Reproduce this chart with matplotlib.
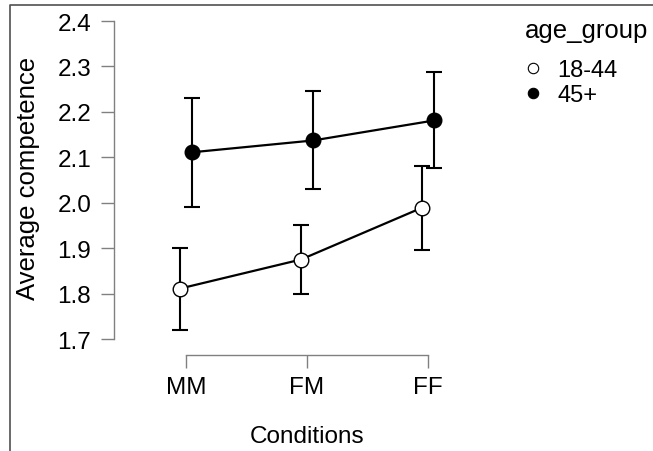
import matplotlib
matplotlib.use('Agg')
import matplotlib.pyplot as plt
from matplotlib.lines import Line2D
import numpy as np

# 数据
conditions = ['MM', 'FM', 'FF']
groups = ['18-44', '45+']
mean_young = [1.811, 1.875, 1.989]
lower_young = [1.720, 1.798, 1.897]
upper_young = [1.900, 1.952, 2.081]
mean_old = [2.111, 2.137, 2.181]
lower_old = [1.991, 2.030, 2.076]
upper_old = [2.230, 2.245, 2.287]
y_ticks = [1.7, 1.8, 1.9, 2.0, 2.1, 2.2, 2.3, 2.4]

plt.rcParams['font.family'] = ['Liberation Sans', 'DejaVu Sans']

W, H = 653, 452
fig = plt.figure(figsize=(W / 100, H / 100), dpi=100)

# 坐标轴位置（像素）
left_px, right_px, top_px, bottom_px = 114, 470, 22, 356
ax = fig.add_axes([left_px / W, 1 - bottom_px / H,
                   (right_px - left_px) / W, (bottom_px - top_px) / H])

px_per_unit = 121.0
ax.set_xlim((left_px - 186) / px_per_unit, (right_px - 186) / px_per_unit)
px_per_y = 454.3
ax.set_ylim(2.4 - (bottom_px - top_px) / px_per_y, 2.4)

x = np.arange(len(conditions))
dodge = 6 / px_per_unit

series = [
    (mean_young, lower_young, upper_young, 'white', -dodge),
    (mean_old, lower_old, upper_old, 'black', dodge),
]
for means, lows, ups, face, off in series:
    m = np.array(means)
    err = [m - np.array(lows), np.array(ups) - m]
    ax.errorbar(x + off, m, yerr=err, fmt='none', ecolor='black',
                elinewidth=1.5, capsize=6, capthick=1.5, zorder=2)
    ax.plot(x + off, m, color='black', linewidth=1.6, zorder=3)
    ax.plot(x + off, m, linestyle='none', marker='o', markersize=10.5,
            markerfacecolor=face, markeredgecolor='black',
            markeredgewidth=1.0, zorder=4)

# 轴线样式（JASP风格）
for s in ['top', 'right']:
    ax.spines[s].set_visible(False)
ax.spines['left'].set_bounds(1.7, 2.4)
ax.spines['bottom'].set_bounds(0, 2)
for s in ['left', 'bottom']:
    ax.spines[s].set_color('#808080')
    ax.spines[s].set_linewidth(1.0)

ax.set_xticks(x)
ax.set_xticklabels(conditions)
ax.set_yticks(y_ticks)
ax.set_yticklabels([f'{v:.1f}' for v in y_ticks])
ax.tick_params(axis='both', colors='#808080', labelcolor='black',
               labelsize=17.5, length=9.4, width=1.0)
ax.tick_params(axis='y', pad=7)
ax.tick_params(axis='x', pad=6)

fig.text(28 / W, 1 - 178 / H, 'Average competence', rotation=90,
         ha='center', va='center', fontsize=18.5)
fig.text(307 / W, 1 - 443 / H, 'Conditions', ha='center', va='baseline',
         fontsize=17.5)

# 图例
fig.text(525 / W, 1 - 38 / H, 'age_group', ha='left', va='baseline',
         fontsize=18.5)
legend_y = [69, 94]
legend_base = [77, 102]
legend_face = ['white', 'black']
for gy, gb, face, label in zip(legend_y, legend_base, legend_face, groups):
    fig.add_artist(Line2D([533 / W], [1 - gy / H], linestyle='none',
                          marker='o', markersize=7.5, markerfacecolor=face,
                          markeredgecolor='black', markeredgewidth=0.8,
                          transform=fig.transFigure))
    fig.text(557 / W, 1 - gb / H, label, ha='left', va='baseline',
             fontsize=17)

# 外框
fig.add_artist(Line2D([10 / W, 10 / W, 1.0], [0.0, 1 - 6 / H, 1 - 6 / H],
                      color='#505050', linewidth=1.2,
                      transform=fig.transFigure))

fig.savefig('out.png', dpi=100)
